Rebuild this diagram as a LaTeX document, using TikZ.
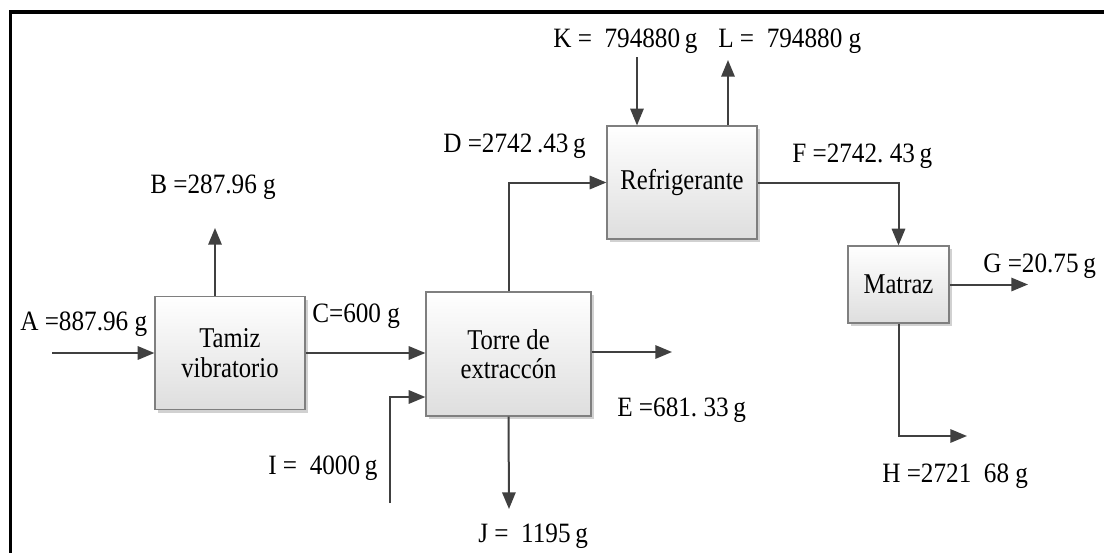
\documentclass[tikz,border=0pt]{standalone}
\usepackage{fontspec}
\setmainfont{Liberation Serif}
\newfontfamily\boxfont[FakeStretch=0.86]{Liberation Serif}
\newfontfamily\lblfont[FakeStretch=0.9]{Liberation Serif}
\usetikzlibrary{arrows.meta,shadows,calc}
\definecolor{arrowgray}{HTML}{404040}
\definecolor{boxedge}{HTML}{7F7F7F}
\tikzset{
  unitbox/.style={draw=boxedge, line width=0.9pt, top color=white, bottom color=black!13,
    drop shadow={shadow xshift=2.4pt, shadow yshift=-2.4pt, fill=black!18, opacity=1},
    align=center, inner sep=0pt, font=\boxfont\fontsize{21.5}{22}\selectfont},
  stream/.style={draw=arrowgray, line width=1.5pt, -{Triangle[length=12.5pt,width=10pt]}},
  thinstream/.style={stream, line width=1.1pt},
  lbl/.style={anchor=base west, inner sep=0pt, font=\lblfont\fontsize{21}{23}\selectfont},
  frameline/.style={draw=black, line width=2.3pt}
}
\begin{document}
\begin{tikzpicture}[x=0.75pt, y=-0.75pt]
\useasboundingbox (0,0) rectangle (1104,553);
\fill[white] (0,0) rectangle (1104,553);
% frame
\draw[frameline] (10.5,553) -- (10.5,12) -- (1104,12);

% units
\node[unitbox, minimum width=112.5pt, minimum height=84.75pt] (tamiz) at (230,353) {Tamiz\\vibratorio};
\node[unitbox, minimum width=123.75pt, minimum height=93pt] (torre) at (508.5,354) {Torre de\\extracc\'on};
\node[unitbox, minimum width=112.5pt, minimum height=84.75pt] (refri) at (682,182.5) {Refrigerante};
\node[unitbox, minimum width=75.75pt, minimum height=57.75pt] (matraz) at (898.5,284.5) {Matraz};

% free ends
\coordinate (a0) at (52,353);
\coordinate (b1) at (215,228);
\coordinate (i0) at (390,503);
\coordinate (e1) at (672,352);
\coordinate (j1) at (509,509);
\coordinate (k0) at (637,57);
\coordinate (l1) at (728,60);
\coordinate (g1) at (1028,284.5);
\coordinate (h1) at (967,436);

% connectors
\draw[stream] (a0) -- (tamiz.west);
\draw[stream] (tamiz.north -| b1) -- (b1);
\draw[stream] (tamiz.east) -- (torre.west |- tamiz.east);
\draw[stream] (i0) |- ($(torre.west)+(0,43)$);
\draw[stream] (torre.north) |- (refri.west);
\draw[stream] (torre.east |- e1) -- (e1);
\draw[stream] (torre.south) -- (j1);
\draw[thinstream] (k0) -- (refri.north -| k0);
\draw[stream] (refri.north -| l1) -- (l1);
\draw[stream] (refri.east) -| (matraz.north);
\draw[stream] (matraz.east) -- (g1);
\draw[stream] (matraz.south) |- (h1);

% labels
\node[lbl] (la) at (20,330) {A =887.96 g};
\node[lbl] (lb) at (150,193) {B =287.96 g};
\node[lbl] (lc) at (312,322) {C=600 g};
\node[lbl] (ld) at (443,152) {D =2742\,.43\,g};
\node[lbl] (lk) at (553,47) {K =\ \ 794880\,g};
\node[lbl] (ll) at (718,47) {L =\ \ 794880 g};
\node[lbl] (lf) at (792,162) {F =2742.\ 43\,g};
\node[lbl] (lg) at (983,272) {G =20.75\,g};
\node[lbl] (lh) at (882,482) {H =2721\ \ 68 g};
\node[lbl] (le) at (617,416) {E =681.\ 33\,g};
\node[lbl] (li) at (268,474) {I =\ \ 4000\,g};
\node[lbl] (lj) at (478,542) {J =\ \ 1195\,g};
\end{tikzpicture}
\end{document}
